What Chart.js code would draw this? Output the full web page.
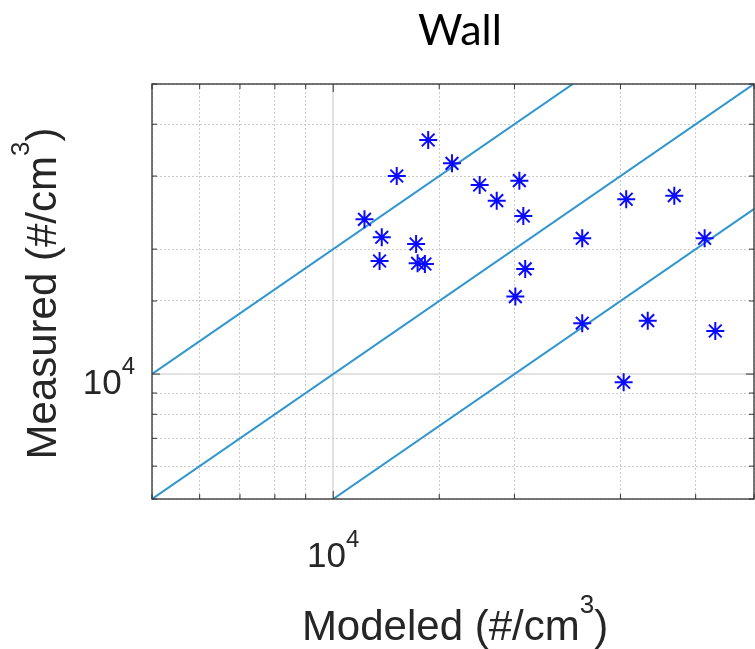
<!DOCTYPE html>
<html>
<head>
<meta charset="utf-8">
<script src="https://cdn.jsdelivr.net/npm/chart.js@4.4.1/dist/chart.umd.min.js"></script>
<style>
  html, body { margin: 0; padding: 0; background: #fff; overflow: hidden; }
  #wrap { width: 765px; height: 649px; }
</style>
</head>
<body>
<div id="wrap"><canvas id="myChart" width="765" height="649"></canvas></div>
<script>
// valores (#/cm3)
const modeled = [14380, 15750, 12750, 17510, 20380, 18690, 20690, 11270, 12040, 13730, 11940, 13810,
                 14200, 20840, 20070, 30670, 36860, 25920, 41400, 25920, 33300, 43120, 30370];
const measured = [36650, 32200, 30010, 28550, 29240, 26170, 24040, 23600, 21360, 20580, 18730, 18490,
                  18420, 17920, 15370, 26380, 26910, 21240, 21240, 13260, 13450, 12700, 9554];

// lineas de referencia y = k*x
const refX = [1000, 100000];
const refRatios = [2, 1, 0.5];

const xMin = 5000, xMax = 50000;
const yMin = 5000, yMax = 50000;
const labeledTick = 10000;

const titulo = 'Wall';
const xTitulo = ['Modeled (#/cm', '3', ')'];
const yTitulo = ['Measured (#/cm', '3', ')'];
const tickTexto = ['10', '4'];

const puntos = modeled.map((m, i) => ({ x: m, y: measured[i] }));

function refLine(k) {
    return refX.map(x => ({ x: x, y: x * k }));
}

const fuenteEje = "'Liberation Sans', Arial, Helvetica, sans-serif";

// mide texto con superindice
function partes(ctx, p, size, supSize, raise) {
    const trozos = [
        { t: p[0], f: size, dy: 0 },
        { t: p[1], f: supSize, dy: -raise },
        { t: p[2] || '', f: size, dy: 0 }
    ];
    let total = 0;
    trozos.forEach(tr => {
        ctx.font = tr.f + 'px ' + fuenteEje;
        tr.w = ctx.measureText(tr.t).width;
        total += tr.w;
    });
    return { trozos, total };
}

function dibujaPartes(ctx, info, x, y) {
    let cx = x;
    info.trozos.forEach(tr => {
        ctx.font = tr.f + 'px ' + fuenteEje;
        ctx.fillText(tr.t, cx, y + tr.dy);
        cx += tr.w;
    });
}

const marco = {
    id: 'marco',
    afterDraw(chart) {
        const ctx = chart.ctx;
        const a = chart.chartArea;
        const xs = chart.scales.x;
        const ys = chart.scales.y;
        ctx.save();

        // caja
        ctx.strokeStyle = '#4a4a4a';
        ctx.lineWidth = 1.5;
        ctx.strokeRect(a.left, a.top, a.right - a.left, a.bottom - a.top);

        // ticks hacia dentro
        ctx.strokeStyle = '#333';
        ctx.lineWidth = 1;
        ctx.beginPath();
        xs.ticks.forEach(t => {
            const px = xs.getPixelForValue(t.value);
            const len = t.value === labeledTick ? 8 : 5;
            ctx.moveTo(px, a.bottom);
            ctx.lineTo(px, a.bottom - len);
            ctx.moveTo(px, a.top);
            ctx.lineTo(px, a.top + len);
        });
        ys.ticks.forEach(t => {
            const py = ys.getPixelForValue(t.value);
            const len = t.value === labeledTick ? 8 : 5;
            ctx.moveTo(a.left, py);
            ctx.lineTo(a.left + len, py);
            ctx.moveTo(a.right, py);
            ctx.lineTo(a.right - len, py);
        });
        ctx.stroke();

        ctx.fillStyle = '#262626';
        ctx.textAlign = 'left';
        ctx.textBaseline = 'alphabetic';

        // etiquetas 10^4
        const tk = partes(ctx, tickTexto, 35, 24, 20);
        const px = xs.getPixelForValue(labeledTick);
        dibujaPartes(ctx, tk, px - tk.total / 2, a.bottom + 68);
        const py = ys.getPixelForValue(labeledTick);
        dibujaPartes(ctx, tk, a.left - 17 - tk.total, py + 20);

        // titulos de ejes
        const xt = partes(ctx, xTitulo, 42, 26, 27);
        dibujaPartes(ctx, xt, (a.left + a.right) / 2 + 2 - xt.total / 2, 640);

        const yt = partes(ctx, yTitulo, 42, 26, 27);
        ctx.save();
        ctx.translate(56, (a.top + a.bottom) / 2 + 2);
        ctx.rotate(-Math.PI / 2);
        dibujaPartes(ctx, yt, -yt.total / 2, 0);
        ctx.restore();

        // titulo
        ctx.fillStyle = '#000';
        ctx.font = "43px 'Comic Sans MS', Lato, sans-serif";
        ctx.textAlign = 'center';
        ctx.fillText(titulo, 460, 45);

        ctx.restore();
    }
};

const gridOpts = {
    drawTicks: false,
    color: c => (c.tick && c.tick.value === labeledTick) ? '#e2e2e2' : '#cbcbcb',
    lineWidth: c => (c.tick && c.tick.value === labeledTick) ? 2 : 1
};
const borderOpts = {
    display: false,
    dash: c => (c.tick && c.tick.value === labeledTick) ? [] : [2, 2]
};

const datasets = [{
    label: titulo,
    data: puntos,
    pointStyle: 'star',
    pointRadius: 9,
    pointHoverRadius: 9,
    pointBorderWidth: 2,
    borderColor: '#0a0aff',
    backgroundColor: '#0a0aff'
}];
refRatios.forEach(k => {
    datasets.push({
        label: 'y = ' + k + 'x',
        data: refLine(k),
        showLine: true,
        pointRadius: 0,
        borderColor: '#3196ce',
        borderWidth: 2
    });
});

new Chart(document.getElementById('myChart'), {
    type: 'scatter',
    data: { datasets: datasets },
    options: {
        responsive: false,
        animation: false,
        layout: { padding: { left: 152, top: 84, right: 7, bottom: 150 } },
        plugins: {
            legend: { display: false },
            tooltip: { enabled: false }
        },
        scales: {
            x: {
                type: 'logarithmic',
                min: xMin,
                max: xMax,
                ticks: { display: false },
                grid: gridOpts,
                border: borderOpts
            },
            y: {
                type: 'logarithmic',
                min: yMin,
                max: yMax,
                ticks: { display: false },
                grid: gridOpts,
                border: borderOpts
            }
        }
    },
    plugins: [marco]
});
</script>
</body>
</html>
